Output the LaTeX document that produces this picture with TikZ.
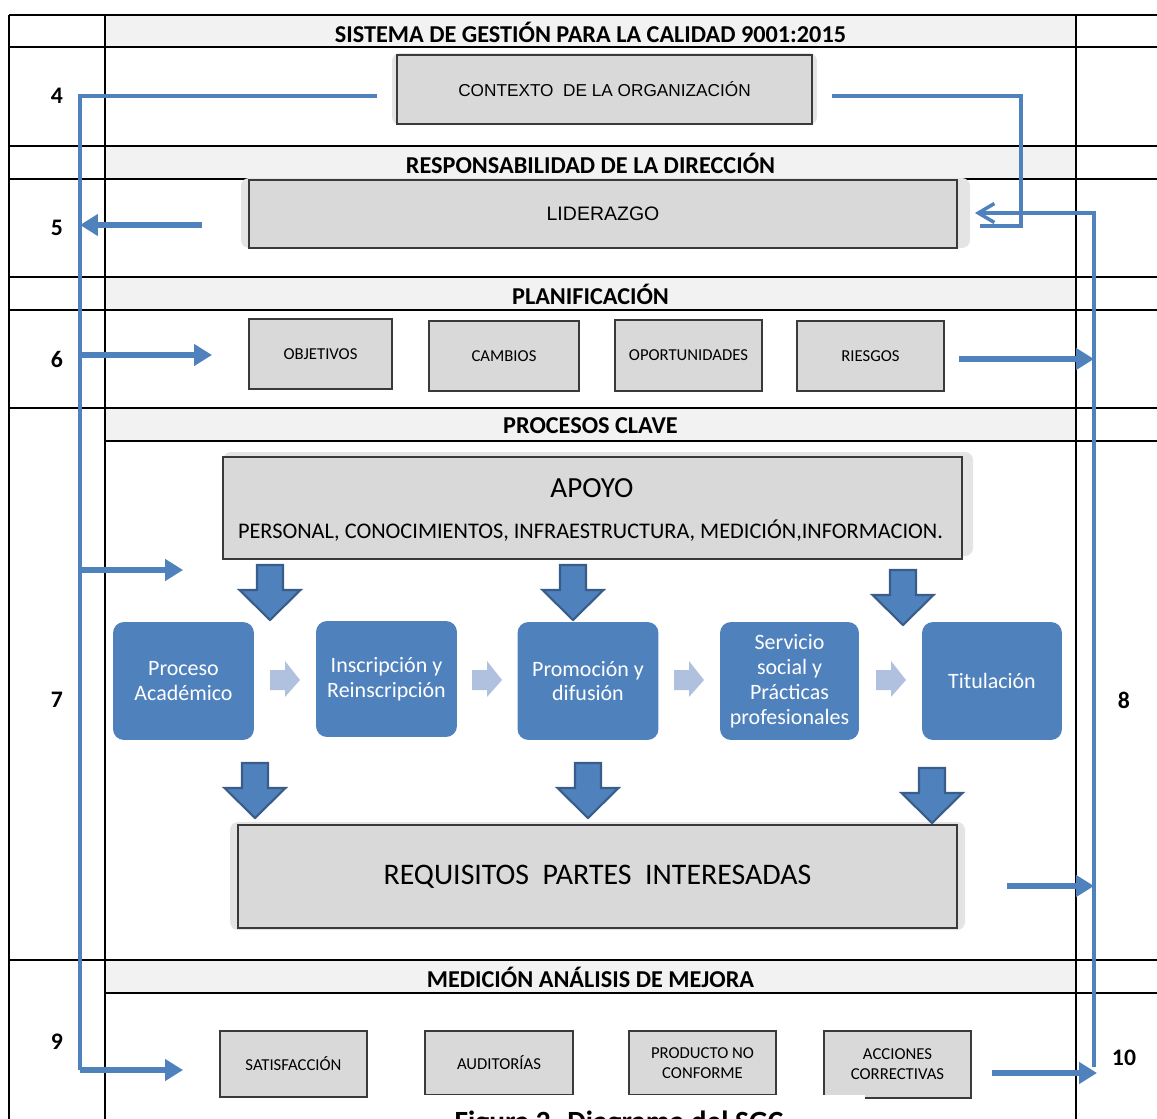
\documentclass[tikz,border=0pt]{standalone}
\usepackage{fontspec}
\setmainfont{Carlito}
\newfontfamily\arialfont{Liberation Sans}
\usetikzlibrary{arrows.meta}

\definecolor{headgray}{HTML}{F2F2F2}
\definecolor{boxgray}{HTML}{D9D9D9}
\definecolor{shadegray}{HTML}{E4E4E4}
\definecolor{edgegray}{HTML}{3A3A3A}
\definecolor{procblue}{HTML}{4F81BD}
\definecolor{darkblue}{HTML}{385D8A}
\definecolor{lightblue}{HTML}{B0C1DF}
\definecolor{linkblue}{HTML}{4F81BD}

\tikzset{
  grid line/.style={black, line width=1.3pt},
  graybox/.style={draw=edgegray, fill=boxgray, line width=0.8pt, inner sep=0pt, outer sep=0pt, align=center},
  smallbox/.style={graybox, minimum width=2.94cm, minimum height=1.4cm, font=\fontsize{9.5}{11.4}\selectfont},
  shade/.style={fill=shadegray, rounded corners=0.16cm},
  procbox/.style={fill=procblue, rounded corners=0.22cm, text=white, inner sep=0pt, align=center,
    font=\fontsize{12.5}{14.2}\selectfont, minimum width=2.82cm, minimum height=2.36cm},
  head/.style={font=\bfseries\fontsize{13.8}{15}\selectfont},
  num/.style={font=\bfseries\fontsize{13.5}{15}\selectfont},
  bus/.style={draw=linkblue, line width=2pt},
  flow/.style={draw=linkblue, line width=3.2pt, -{Triangle[length=0.36cm, width=0.42cm]}},
  blockdown/.style={fill=procblue, draw=darkblue, line width=1.2pt, line join=miter},
  chevron/.style={fill=lightblue},
}

\begin{document}
\begin{tikzpicture}[x=0.02cm, y=-0.02cm]
\path[use as bounding box, clip] (0,0) rectangle (1157,1119);

% table
\fill[headgray] (105,15) rectangle (1076,47);
\fill[headgray] (105,146) rectangle (1076,179);
\fill[headgray] (105,277) rectangle (1076,310);
\fill[headgray] (105,408) rectangle (1076,441);
\fill[headgray] (105,960) rectangle (1076,993);
\foreach \y in {15,47,146,179,277,310,408,960}
  \draw[grid line] (9,\y) -- (1157,\y);
\foreach \y in {441,993}
  \draw[grid line] (105,\y) -- (1157,\y);
\foreach \x in {9,105,1076}
  \draw[grid line] (\x,15) -- (\x,1119);

\node[head] (h1) at (590.5,32) {SISTEMA DE GESTIÓN PARA LA CALIDAD 9001:2015};
\node[head] (h2) at (590.5,163) {RESPONSABILIDAD DE LA DIRECCIÓN};
\node[head] (h3) at (590.5,294) {PLANIFICACIÓN};
\node[head] (h4) at (590.5,426) {PROCESOS CLAVE};
\node[head] (h5) at (590.5,977) {MEDICIÓN ANÁLISIS DE MEJORA};

\node[num] (n4) at (57,96) {4};
\node[num] (n5) at (57,228) {5};
\node[num] (n6) at (57,359) {6};
\node[num] (n7) at (57,700) {7};
\node[num] (n8) at (1124,700) {8};
\node[num] (n9) at (57,1042) {9};
\node[num] (n10) at (1124,1058) {10};

% shadows
\fill[shade] (392,53) rectangle (817,125);
\fill[shade] (241,178) rectangle (970,248);
\fill[shade] (223,452) rectangle (973,556);
\fill[shade] (230,822) rectangle (965,930);

% boxes
\node[graybox, minimum width=8.3cm, minimum height=1.38cm, font=\arialfont\fontsize{9.8}{11}\selectfont] (ctx) at (604.5,89.5) {CONTEXTO\ \ DE LA ORGANIZACIÓN};
\node[graybox, minimum width=14.16cm, minimum height=1.36cm, font=\arialfont\fontsize{11.1}{13}\selectfont] (lid) at (603,214) {LIDERAZGO};

\node[smallbox, minimum width=2.86cm] (obj) at (320.5,354) {OBJETIVOS};
\node[smallbox, minimum width=3cm] (cam) at (504,356) {CAMBIOS};
\node[smallbox, minimum height=1.42cm] (opo) at (688.5,355.5) {OPORTUNIDADES};
\node[smallbox] (rie) at (870.5,356) {RIESGOS};

\node[graybox, minimum width=14.78cm, minimum height=2.04cm] (apoyo) at (592.5,508) {};
\node[font=\fontsize{16.6}{20}\selectfont] (apoyo-t) at (592,488) {APOYO};
\node[font=\fontsize{12.7}{14}\selectfont] (apoyo-s) at (590.5,531) {PERSONAL, CONOCIMIENTOS, INFRAESTRUCTURA, MEDICIÓN,INFORMACION.};

\node[procbox] (p1) at (183.5,681) {Proceso\\Académico};
\node[procbox, minimum height=2.32cm] (p2) at (386.5,679) {Inscripción y\\Reinscripción};
\node[procbox] (p3) at (588,681) {Promoción y\\difusión};
\node[procbox, minimum width=2.78cm] (p4) at (789.5,681) {Servicio\\social y\\Prácticas\\profesionales};
\node[procbox, minimum width=2.8cm] (p5) at (992,681) {Titulación};

\node[graybox, minimum width=14.38cm, minimum height=2.06cm, font=\fontsize{17}{20}\selectfont] (req) at (597.5,876.5) {REQUISITOS\ \ PARTES\ \ INTERESADAS};

\node[smallbox, minimum height=1.32cm] (sat) at (293.5,1064) {SATISFACCIÓN};
\node[smallbox, minimum width=2.96cm, minimum height=1.28cm] (aud) at (499,1063) {AUDITORÍAS};
\node[smallbox, minimum height=1.28cm] (pnc) at (702.5,1063) {PRODUCTO NO\\CONFORME};
\node[smallbox, minimum height=1.34cm] (acc) at (897.5,1064.5) {ACCIONES\\CORRECTIVAS};

% big arrows
\foreach \x/\y in {270/565, 573/565, 903/570, 255/763, 588/763, 932/768}
  \draw[blockdown] (\x-13,\y) -- (\x+13,\y) -- (\x+13,\y+25) -- (\x+30.5,\y+25)
    -- (\x,\y+55) -- (\x-30.5,\y+25) -- (\x-13,\y+25) -- cycle;
\foreach \x in {270,472,674,876}
  \fill[chevron] (\x,670) -- (\x+15,670) -- (\x+15,661) -- (\x+30,680)
    -- (\x+15,697) -- (\x+15,690) -- (\x,690) -- cycle;

% caption
\fill[white] (400,1095) rectangle (865,1125);
\node[font=\bfseries\fontsize{16.7}{20}\selectfont, anchor=base] (cap) at (619,1131) {Figura 2. Diagrama del SGC};

% left links
\coordinate (L4) at (80,96);
\coordinate (L5) at (80,225);
\coordinate (L6) at (80,355);
\coordinate (L7) at (80,570);
\coordinate (L9) at (80,1070);
\draw[bus, shorten <=0.4cm] (ctx.west |- L4) -- (L4) -- (L9);
\draw[flow, shorten <=0.94cm] (lid.west |- L5) -- (L5);
\draw[flow, shorten >=0.74cm] (L6) -- (obj.west |- L6);
\draw[flow, shorten >=0.8cm] (L7) -- (apoyo.west |- L7);
\draw[flow, shorten >=0.74cm] (L9) -- (sat.west |- L9);

% right links
\coordinate (R1) at (1021,96);
\coordinate (R2) at (1021,226);
\draw[bus, shorten <=0.4cm, shorten >=0.46cm] (ctx.east |- R1) -- (R1) -- (R2) -- (lid.east |- R2);
\coordinate (B0) at (1094,213);
\coordinate (B1) at (1094,1067);
\draw[bus, -{Straight Barb[length=0.32cm, width=0.38cm]}, shorten >=0.36cm] (B1) -- (B0) -- (lid.east |- B0);
\coordinate (B6) at (1094,359);
\coordinate (B8) at (1094,886);
\coordinate (B10) at (1097,1073);
\draw[flow, shorten <=0.3cm] (rie.east |- B6) -- (B6);
\draw[flow, shorten <=1cm] (req.east |- B8) -- (B8);
\draw[flow, shorten <=0.42cm] (acc.east |- B10) -- (B10);
\end{tikzpicture}
\end{document}
